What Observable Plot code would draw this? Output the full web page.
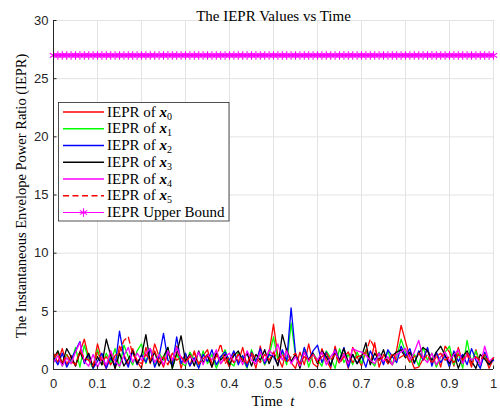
<!DOCTYPE html>
<html><head><meta charset="utf-8">
<script src="https://cdn.jsdelivr.net/npm/d3@7"></script>
<script src="https://cdn.jsdelivr.net/npm/@observablehq/plot@0.6"></script>
<style>body{margin:0;background:#fff}#chart{width:500px;height:414px}</style>
</head><body><div id="chart"></div><script>
const time = [0,0.01,0.02,0.03,0.04,0.05,0.06,0.07,0.08,0.09,
0.10,0.11,0.12,0.13,0.14,0.15,0.16,0.17,0.18,0.19,
0.20,0.21,0.22,0.23,0.24,0.25,0.26,0.27,0.28,0.29,
0.30,0.31,0.32,0.33,0.34,0.35,0.36,0.37,0.38,0.39,
0.40,0.41,0.42,0.43,0.44,0.45,0.46,0.47,0.48,0.49,
0.50,0.51,0.52,0.53,0.54,0.55,0.56,0.57,0.58,0.59,
0.60,0.61,0.62,0.63,0.64,0.65,0.66,0.67,0.68,0.69,
0.70,0.71,0.72,0.73,0.74,0.75,0.76,0.77,0.78,0.79,
0.80,0.81,0.82,0.83,0.84,0.85,0.86,0.87,0.88,0.89,
0.90,0.91,0.92,0.93,0.94,0.95,0.96,0.97,0.98,0.99,1.00];

const iepr_x0 = [1.4,0.6,1.8,0.4,1.2,0.3,1.5,2.6,1.0,0.2,
2.2,0.8,0.1,1.6,0.1,2.0,1.3,0.4,1.8,0.7,
0.1,1.9,0.5,2.2,1.1,0.2,1.4,0.6,2.0,0.1,
1.3,0.3,1.6,0.4,1.2,1.7,0.2,1.4,0.5,1.0,
0.2,1.5,0.6,1.9,0.3,1.3,0.1,2.0,0.4,1.4,
3.9,1.1,0.2,1.8,0.6,0.1,1.5,0.4,2.2,0.5,
0.2,1.8,0.8,0.1,2.0,0.6,1.4,0.1,1.9,1.1,
0.3,1.6,0.5,2.3,0.2,1.3,0.8,0.4,1.7,3.8,
2.4,1.1,0.1,0.2,0.9,1.8,0.5,1.4,0.2,2.0,
1.5,0.3,1.9,0.6,1.3,0.2,1.7,0.4,1.2,0.1,0.9];

const iepr_x1 = [0.6,1.6,0.3,1.3,0.5,1.9,0.2,2.1,0.8,0.1,
1.7,0.4,1.4,0.6,1.8,0.2,2.1,1.1,0.4,1.6,
2.2,0.5,1.8,0.3,1.4,0.8,1.9,0.1,1.3,0.6,
0.3,1.5,0.8,0.2,1.6,0.5,1.3,0.1,1.0,1.7,
0.6,0.3,1.5,0.9,0.1,1.7,0.7,1.3,0.4,1.2,
2.8,0.8,1.5,0.4,4.0,1.2,0.5,1.8,0.2,1.4,
0.8,0.3,1.6,1.0,0.1,1.8,0.6,1.3,0.4,1.5,
0.5,1.7,0.8,0.3,1.5,0.6,1.6,0.4,1.1,2.6,
1.5,0.6,1.3,0.3,1.9,0.8,1.4,0.2,1.1,1.5,
2.0,0.4,1.4,0.1,2.5,0.6,1.6,0.3,1.3,0.5,0.9];

const iepr_x2 = [1.1,0.4,1.4,0.2,0.9,1.6,2.4,0.5,1.3,0.1,
0.7,1.4,0.1,1.0,0.3,3.3,1.1,0.2,1.6,0.4,
1.3,0.6,1.8,0.2,1.1,3.1,0.8,0.4,2.8,0.5,
1.4,0.3,1.0,0.1,1.3,0.7,1.7,0.4,1.1,1.5,
0.8,1.6,0.4,1.2,0.2,1.5,0.7,1.8,0.5,1.3,
1.1,0.4,1.7,0.7,5.3,1.4,0.3,1.9,0.8,1.6,
2.1,0.6,1.5,0.3,1.7,0.8,1.9,0.2,1.3,0.5,
1.2,0.2,1.6,0.8,1.4,0.4,1.7,1.1,0.6,2.0,
1.2,1.8,0.5,1.6,0.8,1.9,0.3,1.5,0.6,1.2,
0.2,1.6,0.7,1.3,0.4,1.8,0.8,0.1,1.5,0.5,0.8];

const iepr_x3 = [0.9,1.6,0.5,1.8,1.1,0.3,1.5,0.7,1.4,0.2,
1.1,0.4,2.6,1.2,0.1,1.4,0.3,0.9,1.6,0.5,
1.2,3.0,0.6,1.5,0.3,1.1,1.9,0.1,1.4,2.9,
0.7,1.3,0.3,1.6,0.6,1.2,0.2,1.4,0.8,1.3,
0.4,1.2,1.6,0.7,1.4,0.3,1.3,0.8,1.7,0.5,
1.4,0.3,3.0,1.6,0.7,1.3,0.1,1.5,0.8,1.4,
0.5,1.6,1.1,0.4,1.4,0.8,1.8,0.6,1.3,0.5,
1.1,2.3,0.4,1.4,0.8,1.7,0.5,1.2,1.5,1.7,
1.0,1.5,0.6,1.4,1.9,1.6,0.8,1.5,2.0,1.2,
0.5,1.4,0.1,1.1,1.6,0.7,0.1,1.3,0.9,0.4,1.0];

const iepr_x4 = [0.6,1.2,0.3,1.0,0.5,1.5,2.3,0.7,0.3,1.3,
0.2,1.0,0.4,1.6,0.7,0.3,1.2,1.9,0.6,1.4,
0.8,1.4,1.8,0.6,1.3,0.4,1.6,0.8,1.9,1.0,
0.5,1.2,0.7,1.5,0.4,1.3,0.8,1.7,0.5,1.1,
1.4,0.6,1.3,0.4,1.6,0.8,0.5,1.5,0.7,1.7,
1.2,2.2,0.8,1.6,0.5,1.1,0.3,1.5,0.7,1.3,
0.8,1.5,0.4,1.1,1.6,0.6,1.3,0.5,1.8,1.6,
1.5,1.2,0.8,0.5,1.4,0.7,1.1,0.4,1.3,1.5,
1.8,0.8,1.5,2.5,1.0,0.6,1.4,0.4,1.1,1.5,
0.7,1.3,1.7,0.5,1.4,0.8,1.1,0.4,2.0,0.7,1.0];

const iepr_x5 = [1.0,1.4,0.5,1.3,0.7,0.4,1.6,1.0,0.8,0.3,
1.5,0.7,1.1,0.4,1.2,1.5,2.5,2.8,1.3,0.8,
0.5,1.3,0.8,1.6,0.6,1.1,0.4,1.4,0.8,1.1,
0.6,1.1,1.4,0.5,0.9,1.3,0.6,1.1,2.2,0.5,
1.1,0.6,1.3,0.8,0.5,1.4,1.0,0.6,1.3,0.8,
1.5,0.8,1.3,0.6,1.1,1.4,0.5,1.1,0.8,1.3,
0.6,1.1,1.4,0.8,1.3,0.5,1.1,1.5,0.6,1.1,
1.2,1.5,2.6,1.8,0.8,1.1,0.5,1.4,0.8,1.1,
1.3,0.6,1.1,1.4,0.8,1.3,0.5,1.1,1.4,0.8,
1.1,0.6,1.3,0.8,1.4,0.5,1.1,0.8,1.3,0.6,1.0];

const upperBoundValue = 27;
const xTicks = [0,0.1,0.2,0.3,0.4,0.5,0.6,0.7,0.8,0.9,1];
const xTickLabels = ["0","0.1","0.2","0.3","0.4","0.5","0.6","0.7","0.8","0.9","1"];
const yTicks = [0,5,10,15,20,25,30];
const seriesKeys = ["x0","x1","x2","x3","x4","x5"];
const seriesColors = ["#ff0000","#00ff00","#0000ff","#000000","#ff00ff","#ff0000"];
const seriesDash = [null,null,null,null,null,"6,3.5"];
const seriesData = [iepr_x0,iepr_x1,iepr_x2,iepr_x3,iepr_x4,iepr_x5];

const tables = seriesData.map(vals => time.map((t,i)=>({t, v: vals[i]})));
const ubTable = time.map(t => ({t, v: upperBoundValue}));

const axisColor = "#262626";
const gridColor = "#e3e3e3";
const serif = "'Liberation Serif', 'Times New Roman', serif";

const lineMarks = tables.map((tab,k) => Plot.line(tab, {x:"t", y:"v", stroke: seriesColors[k], strokeWidth: 1.3, strokeDasharray: seriesDash[k] || undefined}));

const plot = Plot.plot({
  width: 500, height: 414,
  marginTop: 20, marginBottom: 45, marginLeft: 53, marginRight: 7,
  style: {fontFamily: "'Liberation Sans', Arial, sans-serif", fontSize: "13px", color: axisColor, background: "#fff"},
  x: {domain: [0,1], label: null},
  y: {domain: [0,30], label: null},
  marks: [
    Plot.gridX(xTicks, {stroke: gridColor, strokeOpacity: 1, strokeWidth: 1}),
    Plot.gridY(yTicks, {stroke: gridColor, strokeOpacity: 1, strokeWidth: 1}),
    ...lineMarks,
    Plot.line(ubTable, {x:"t", y:"v", stroke:"#ff00ff", strokeWidth: 1.2}),
    Plot.dot(ubTable, {x:"t", y:"v", stroke:"#ff00ff", symbol:"asterisk", r: 4, strokeWidth: 1.1}),
    Plot.ruleX([0], {stroke: axisColor, strokeWidth: 1}),
    Plot.ruleY([0], {stroke: axisColor, strokeWidth: 1}),
    Plot.ruleX(xTicks, {y1: 0, y2: 0.3, stroke: axisColor}),
    Plot.ruleY(yTicks, {x1: 0, x2: 0.008, stroke: axisColor}),
    Plot.axisX(xTicks, {tickSize: 0, tickPadding: 9, tickFormat: (d,i) => xTickLabels[i], fontSize: 13, fill: axisColor}),
    Plot.axisY(yTicks, {tickSize: 0, tickPadding: 5, fontSize: 13, fill: axisColor}),
    Plot.text(["The IEPR Values vs Time"], {frameAnchor: "top", dy: -10, fontFamily: serif, fontSize: 15, fill: "#000"})
  ]
});
document.getElementById("chart").appendChild(plot);

const svg = d3.select(plot);
svg.append("text")
  .attr("transform", "translate(21,196) rotate(-90)")
  .attr("text-anchor","middle").attr("dy","0.32em")
  .attr("font-family", serif).attr("font-size", 14.5).attr("fill","#000")
  .text("The Instantaneous Envelope Power Ratio (IEPR)");
const xl = svg.append("text").attr("x", 273).attr("y", 406).attr("text-anchor","middle")
  .attr("font-family", serif).attr("font-size", 15).attr("fill","#000");
xl.append("tspan").text("Time  ");
xl.append("tspan").attr("font-style","italic").text("t");

// legend
const lg = svg.append("g");
lg.append("rect").attr("x",58.5).attr("y",102.5).attr("width",170.5).attr("height",118.5)
  .attr("fill","#fff").attr("stroke",axisColor).attr("stroke-width",0.8);
const legendLabels = ["0","1","2","3","4","5"];
const rowY = i => 112 + i*16.75;
seriesKeys.forEach((k,i)=>{
  const y = rowY(i);
  lg.append("line").attr("x1",63).attr("x2",104).attr("y1",y).attr("y2",y)
    .attr("stroke",seriesColors[i]).attr("stroke-width",1.3)
    .attr("stroke-dasharray", seriesDash[i] || null);
  const t = lg.append("text").attr("x",107).attr("y",y+4.5).attr("text-anchor","start")
    .attr("font-family", serif).attr("font-size",15).attr("fill","#000");
  t.append("tspan").text("IEPR of ");
  t.append("tspan").attr("font-style","italic").attr("font-weight","bold").text("x");
  t.append("tspan").attr("font-size",10).attr("dy",3).text(legendLabels[i]);
});
{
  const y = rowY(6);
  lg.append("line").attr("x1",63).attr("x2",104).attr("y1",y).attr("y2",y)
    .attr("stroke","#ff00ff").attr("stroke-width",1.2);
  const s = d3.symbol(d3.symbolAsterisk, 50)();
  lg.append("path").attr("d", s).attr("transform",`translate(83.5,${y})`).attr("stroke","#ff00ff").attr("fill","none").attr("stroke-width",1.1);
  lg.append("text").attr("x",107).attr("y",y+4.5).attr("text-anchor","start")
    .attr("font-family", serif).attr("font-size",15).attr("fill","#000")
    .text("IEPR Upper Bound");
}
</script></body></html>
